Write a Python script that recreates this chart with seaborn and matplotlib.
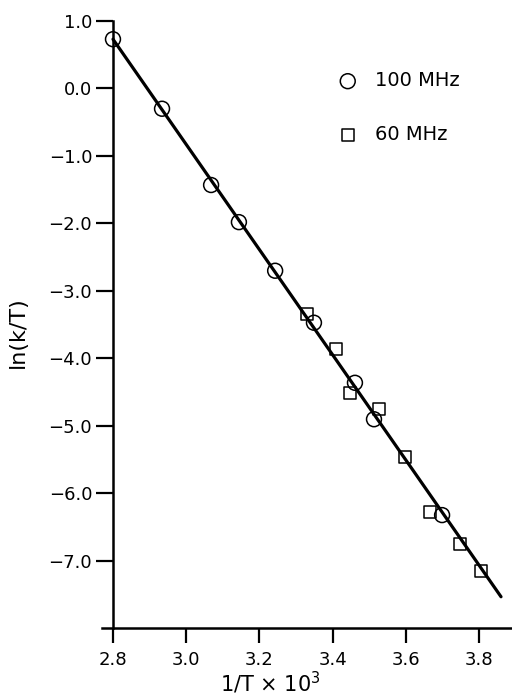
import matplotlib
matplotlib.use("Agg")
import matplotlib.pyplot as plt
import seaborn as sns
import pandas as pd

# 100 MHz points (circles)
x_100 = [2.800, 2.934, 3.068, 3.144, 3.243, 3.349, 3.461, 3.513, 3.699]
y_100 = [0.73, -0.30, -1.43, -1.98, -2.70, -3.47, -4.36, -4.90, -6.32]

# 60 MHz points (squares)
x_60 = [3.330, 3.409, 3.448, 3.527, 3.598, 3.666, 3.748, 3.805]
y_60 = [-3.34, -3.86, -4.51, -4.75, -5.46, -6.27, -6.75, -7.15]

# fitted line end points
fit_x = [2.80, 3.86]
fit_y = [0.73, -7.53]

xticks = [2.8, 3.0, 3.2, 3.4, 3.6, 3.8]
yticks = [1.0, 0.0, -1.0, -2.0, -3.0, -4.0, -5.0, -6.0, -7.0]

sns.set_style("ticks", {"axes.edgecolor": "black", "text.color": "black",
                        "xtick.color": "black", "ytick.color": "black",
                        "axes.labelcolor": "black"})
plt.rcParams['font.family'] = ['DejaVu Sans']

fig = plt.figure(figsize=(5.12, 6.95), dpi=100)
ax = fig.add_axes([102 / 512, 0.0957, 410 / 512, 0.8741])

df100 = pd.DataFrame({"x": x_100, "y": y_100})
df60 = pd.DataFrame({"x": x_60, "y": y_60})
dfit = pd.DataFrame({"x": fit_x, "y": fit_y})

sns.lineplot(data=dfit, x="x", y="y", color="black", linewidth=2.3, ax=ax, zorder=2)
sns.scatterplot(data=df100, x="x", y="y", marker="o", s=115, facecolor="none",
                edgecolor="black", linewidth=1.1, ax=ax, label="100 MHz", zorder=3)
sns.scatterplot(data=df60, x="x", y="y", marker="s", s=70, facecolor="none",
                edgecolor="black", linewidth=1.1, ax=ax, label="60 MHz", zorder=3)

ax.set_xlim(2.770, 3.890)
ax.set_ylim(-8.0, 1.0)
ax.spines['left'].set_position(('data', 2.8))
ax.spines['top'].set_visible(False)
ax.spines['right'].set_visible(False)
for s in ['left', 'bottom']:
    ax.spines[s].set_linewidth(1.8)

ax.set_xticks(xticks)
ax.set_xticklabels([f"{v:.1f}" for v in xticks])
ax.set_yticks(yticks)
ax.set_yticklabels([f"{v:.1f}".replace("-", "\u2212") for v in yticks])
ax.tick_params(axis='x', direction='out', length=11, width=1.6, pad=5, labelsize=13)
ax.tick_params(axis='y', direction='out', length=12, width=1.6, pad=3, labelsize=13)

ax.set_xlabel("1/T × 10$^3$", fontsize=15)
ax.xaxis.set_label_coords((270 - 102) / 410, -0.068)
ax.set_ylabel("ln(k/T)", fontsize=16)
ax.yaxis.set_label_coords(-0.18, 0.488)

leg = ax.legend(frameon=False, loc='upper left', bbox_to_anchor=(0.533, 0.93),
                fontsize=14, labelspacing=1.8, handletextpad=0.4,
                borderaxespad=0, scatterpoints=1)

fig.savefig("out.png", dpi=100)
